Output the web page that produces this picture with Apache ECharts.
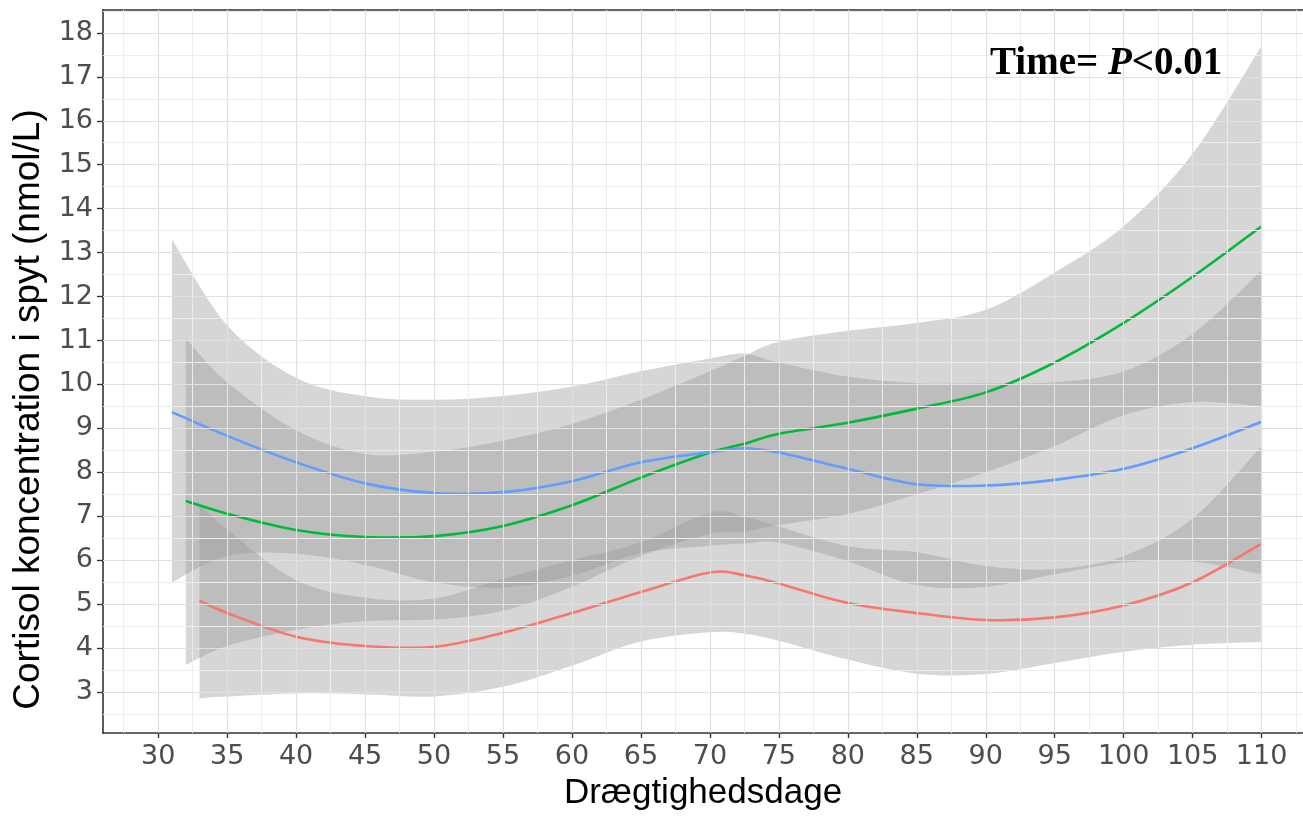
<!DOCTYPE html>
<html><head><meta charset="utf-8">
<script src="https://cdn.jsdelivr.net/npm/echarts@6/dist/echarts.min.js"></script>
<style>html,body{margin:0;padding:0;background:#fff}#c{width:1303px;height:824px}</style>
</head><body><div id="c"></div>
<script>
// ---- tick labels ----
const xTicks = [30,35,40,45,50,55,60,65,70,75,80,85,90,95,100,105,110];
const xMinor = [27.5,32.5,37.5,42.5,47.5,52.5,57.5,62.5,67.5,72.5,77.5,82.5,87.5,92.5,97.5,102.5,107.5,112.5];
const yTicks = [3,4,5,6,7,8,9,10,11,12,13,14,15,16,17,18];
const yMinor = [2.5,3.5,4.5,5.5,6.5,7.5,8.5,9.5,10.5,11.5,12.5,13.5,14.5,15.5,16.5,17.5,18.5];

// ---- blue group ----
const blueX     = [31,35,40,45,50,55,60,65,70,72.5,75,80,85,90,95,100,105,110];
const blueLine  = [9.37,8.83,8.23,7.75,7.53,7.55,7.8,8.23,8.46,8.55,8.45,8.08,7.73,7.7,7.83,8.08,8.55,9.15];
const blueUpper = [13.3,11.35,10.15,9.73,9.65,9.74,9.95,10.3,10.59,10.7,10.5,10.18,10.03,10.03,10.05,10.3,11.15,12.6];
const blueLower = [5.5,6.1,6.15,5.9,5.5,5.38,5.65,6.16,6.33,6.38,6.4,5.98,5.43,5.4,5.68,5.95,5.97,5.68];

// ---- green group ----
const greenX     = [32,35,40,45,50,55,60,65,70,72.5,75,80,85,90,95,100,105,110];
const greenLine  = [7.35,7.06,6.69,6.53,6.55,6.78,7.25,7.88,8.45,8.65,8.88,9.13,9.45,9.82,10.5,11.4,12.45,13.6];
const greenUpper = [11.05,10.05,8.96,8.42,8.47,8.72,9.1,9.65,10.3,10.65,10.97,11.22,11.4,11.7,12.55,13.6,15.25,17.7];
const greenLower = [3.62,4.05,4.42,4.62,4.65,4.85,5.4,6.1,6.6,6.65,6.8,7.05,7.5,8.0,8.6,9.3,9.6,9.5];

// ---- red group ----
const redX     = [33,35,40,45,50,55,60,65,70,72.5,75,80,85,90,95,100,105,110];
const redLine  = [5.08,4.8,4.26,4.05,4.03,4.35,4.8,5.28,5.72,5.66,5.47,5.03,4.8,4.64,4.7,4.97,5.5,6.38];
const redUpper = [7.3,6.7,5.55,5.15,5.13,5.58,6.0,6.41,7.08,6.99,6.77,6.32,6.18,5.87,5.8,6.1,6.95,8.6];
const redLower = [2.86,2.9,2.97,2.95,2.9,3.12,3.6,4.15,4.36,4.33,4.17,3.74,3.42,3.41,3.66,3.92,4.08,4.14];

// Catmull-Rom style bezier through pixel points (rendering only)
function curve(pts) {
  const k = 1 / 6;
  let d = '';
  for (let i = 0; i < pts.length - 1; i++) {
    const p0 = pts[i - 1] || pts[i], p1 = pts[i], p2 = pts[i + 1], p3 = pts[i + 2] || pts[i + 1];
    const c1x = p1[0] + (p2[0] - p0[0]) * k, c1y = p1[1] + (p2[1] - p0[1]) * k;
    const c2x = p2[0] - (p3[0] - p1[0]) * k, c2y = p2[1] - (p3[1] - p1[1]) * k;
    d += ' C' + c1x + ',' + c1y + ' ' + c2x + ',' + c2y + ' ' + p2[0] + ',' + p2[1];
  }
  return d;
}

function bandSeries(name, xs, lo, up) {
  return {
    name: name + ' band', type: 'custom', z: 2, silent: true,
    data: xs.map((x, i) => [x, lo[i], up[i]]),
    encode: { x: 0, y: [1, 2] },
    renderItem: function (params, api) {
      if (params.dataIndex !== 0) return;
      const u = xs.map((x, i) => api.coord([x, up[i]]));
      const l = xs.map((x, i) => api.coord([x, lo[i]])).reverse();
      const d = 'M' + u[0][0] + ',' + u[0][1] + curve(u) +
        ' L' + l[0][0] + ',' + l[0][1] + curve(l) + ' Z';
      return { type: 'path', shape: { pathData: d }, style: { fill: 'rgba(153,153,153,0.4)', stroke: null } };
    }
  };
}
function lineSeries(name, xs, ys, color) {
  return {
    name: name, type: 'custom', z: 3, silent: true,
    data: xs.map((x, i) => [x, ys[i]]),
    encode: { x: 0, y: 1 },
    renderItem: function (params, api) {
      if (params.dataIndex !== 0) return;
      const p = xs.map((x, i) => api.coord([x, ys[i]]));
      const d = 'M' + p[0][0] + ',' + p[0][1] + curve(p);
      return { type: 'path', shape: { pathData: d }, style: { fill: null, stroke: color, lineWidth: 2.6, lineJoin: 'round' } };
    }
  };
}

const gridData = []
  .concat(xMinor.map(v => ({ xAxis: v, lineStyle: { type: 'solid', color: '#ededed', width: 1 } })))
  .concat(yMinor.map(v => ({ yAxis: v, lineStyle: { type: 'solid', color: '#ededed', width: 1 } })))
  .concat(xTicks.map(v => ({ xAxis: v, lineStyle: { type: 'solid', color: '#e0e0e0', width: 1.2 } })))
  .concat(yTicks.map(v => ({ yAxis: v, lineStyle: { type: 'solid', color: '#e0e0e0', width: 1.2 } })));

const chart = echarts.init(document.getElementById('c'), null, { renderer: 'canvas' });
chart.setOption({
  animation: false,
  backgroundColor: '#ffffff',
  title: {
    text: '{a|Time= }{b|P}{a|<0.01}',
    left: 985, top: 39,
    textStyle: {
      rich: {
        a: { fontFamily: 'Liberation Serif', fontWeight: 'bold', fontSize: 39, color: '#000' },
        b: { fontFamily: 'Liberation Serif', fontWeight: 'bold', fontStyle: 'italic', fontSize: 39, color: '#000' }
      }
    }
  },
  grid: { left: 103, right: 0, top: 10, bottom: 91, containLabel: false },
  xAxis: [{
    type: 'value', min: 26, max: 113,
    name: 'Drægtighedsdage', nameLocation: 'middle', nameGap: 43,
    nameTextStyle: { fontFamily: 'Liberation Sans', fontSize: 35, color: '#000' },
    axisLine: { show: true, onZero: false, lineStyle: { color: '#333', width: 1.6 } },
    axisTick: { show: true, length: 5, customValues: xTicks, lineStyle: { color: '#333', width: 1.4 } },
    axisLabel: { customValues: xTicks, margin: 10, fontFamily: 'DejaVu Sans', fontSize: 27, color: '#4d4d4d' },
    splitLine: { show: false }
  }, {
    type: 'value', min: 26, max: 113, position: 'top',
    axisLine: { show: true, onZero: false, lineStyle: { color: '#333', width: 1.6 } },
    axisTick: { show: false }, axisLabel: { show: false }, splitLine: { show: false }
  }],
  yAxis: [{
    type: 'value', min: 2.07, max: 18.52,
    name: 'Cortisol koncentration i spyt (nmol/L)', nameLocation: 'middle', nameGap: 50,
    nameTextStyle: { fontFamily: 'Liberation Sans', fontSize: 37, color: '#000', padding: [0, 76, 0, 0] },
    axisLine: { show: true, onZero: false, lineStyle: { color: '#333', width: 1.6 } },
    axisTick: { show: true, length: 6, customValues: yTicks, lineStyle: { color: '#333', width: 1.4 } },
    axisLabel: { customValues: yTicks, margin: 10, fontFamily: 'DejaVu Sans', fontSize: 27, color: '#4d4d4d' },
    splitLine: { show: false }
  }],
  series: [
    { name: 'gridlines', type: 'line', data: [], z: 1, silent: true,
      markLine: { silent: true, symbol: ['none', 'none'], label: { show: false }, animation: false,
        emphasis: { disabled: true }, lineStyle: { type: 'solid' }, data: gridData } },
    bandSeries('blue', blueX, blueLower, blueUpper),
    bandSeries('green', greenX, greenLower, greenUpper),
    bandSeries('red', redX, redLower, redUpper),
    lineSeries('red', redX, redLine, '#F8766D'),
    lineSeries('green', greenX, greenLine, '#00BA38'),
    lineSeries('blue', blueX, blueLine, '#619CFF')
  ]
});
</script>
</body></html>
